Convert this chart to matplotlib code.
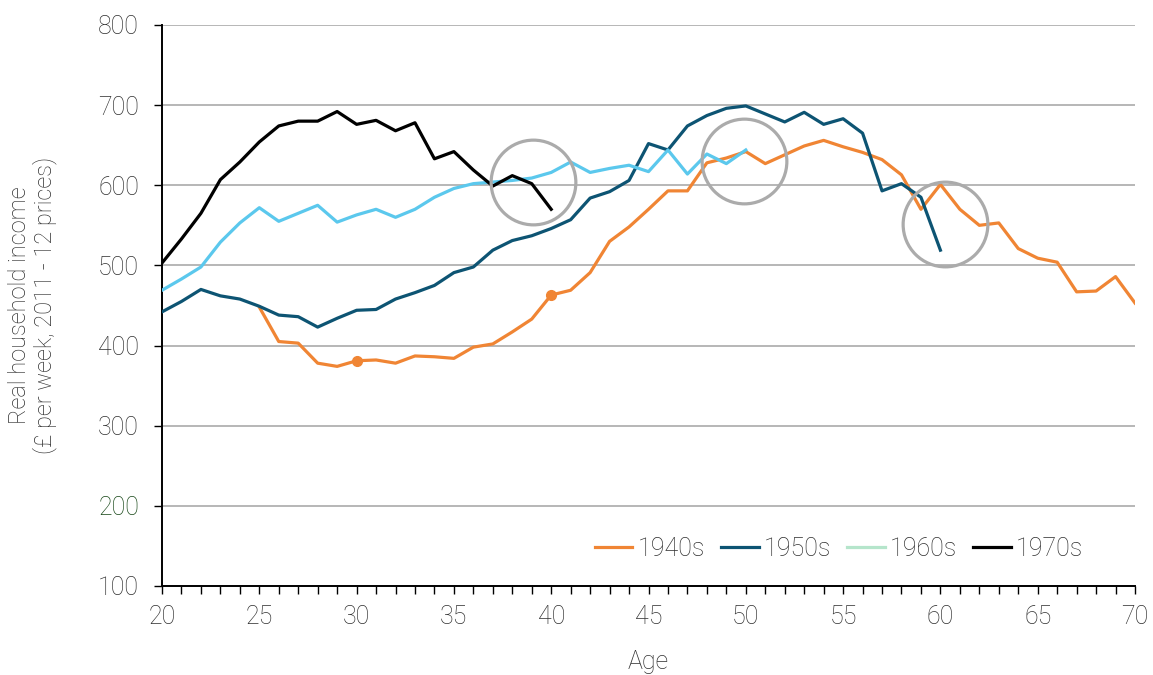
import numpy as np
import matplotlib
matplotlib.use("Agg")
import matplotlib.pyplot as plt
from matplotlib.lines import Line2D
from matplotlib.ticker import MultipleLocator

plt.rcParams['font.family'] = ['Roboto', 'DejaVu Sans']

# cohort income by age (GBP per week, 2011-12 prices)
ages_1940s = np.arange(25, 71)
income_1940s = [448, 405, 403, 378, 374, 381, 382, 378, 387, 386,
                384, 398, 402, 417, 433, 463, 469, 491, 530, 548,
                570, 593, 593, 628, 634, 642, 627, 638, 649, 656,
                648, 641, 632, 613, 570, 601, 570, 550, 553, 521,
                509, 504, 467, 468, 486, 453]

ages_1950s = np.arange(20, 61)
income_1950s = [442, 455, 470, 462, 458, 449, 438, 436, 423, 434,
                444, 445, 458, 466, 475, 491, 498, 519, 531, 537,
                546, 557, 584, 592, 606, 652, 644, 674, 687, 696,
                699, 689, 679, 691, 676, 683, 665, 593, 602, 585, 519]

ages_1960s = np.arange(20, 51)
income_1960s = [469, 483, 498, 529, 553, 572, 555, 565, 575, 554,
                563, 570, 560, 570, 585, 596, 602, 604, 606, 609,
                616, 629, 616, 621, 625, 617, 644, 614, 639, 627, 644]

ages_1970s = np.arange(20, 41)
income_1970s = [503, 533, 565, 607, 629, 654, 674, 680, 680, 692,
                676, 681, 668, 678, 633, 642, 619, 599, 612, 602, 570]

# ages marked with a dot on the 1940s line
marked_ages_1940s = [30, 40]

# highlight circles (age, income)
circle_ages = [39.06, 49.9, 60.25]
circle_income = [604, 630, 552]

labels = ['1940s', '1950s', '1960s', '1970s']
colors = ['#F08534', '#0D5473', '#5BC8ED', '#000000']
legend_colors = ['#F08534', '#0D5473', '#B5E5CB', '#000000']

text_col = '#2E2E2E'

fig = plt.figure(figsize=(11.53, 6.75), dpi=100)
ax = fig.add_axes([0.1405, 0.1319, 0.8439, 0.8311])

lw = 2.3
mark_idx = [list(ages_1940s).index(a) for a in marked_ages_1940s]
ax.plot(ages_1940s, income_1940s, color=colors[0], lw=lw, marker='o', ms=7,
        markevery=mark_idx, zorder=3)
ax.plot(ages_1950s, income_1950s, color=colors[1], lw=lw, zorder=4)
ax.plot(ages_1960s, income_1960s, color=colors[2], lw=lw, zorder=5)
ax.plot(ages_1970s, income_1970s, color=colors[3], lw=lw, zorder=6)

ax.plot(circle_ages, circle_income, ls='none', marker='o', ms=61,
        mfc='none', mec='#ABABAB', mew=2.3, zorder=7)

ax.set_xlim(20, 70)
ax.set_ylim(100, 800)
ax.xaxis.set_major_locator(MultipleLocator(5))
ax.xaxis.set_minor_locator(MultipleLocator(1))
ax.yaxis.set_major_locator(MultipleLocator(100))

ax.grid(axis='y', color='#A3A3A3', lw=1.1, zorder=0)
ax.set_axisbelow(True)

for s in ['top', 'right']:
    ax.spines[s].set_visible(False)
for s in ['left', 'bottom']:
    ax.spines[s].set_color('black')
    ax.spines[s].set_linewidth(1.4)

ax.tick_params(axis='both', which='both', direction='out', length=5.5,
               width=1, color='black', labelcolor=text_col, labelsize=18)
ax.tick_params(axis='x', pad=8)
ax.tick_params(axis='y', pad=11)
for t in ax.get_yticklabels():
    t.set_fontweight('light')
    if t.get_text() == '200':
        t.set_color('#174717')
for t in ax.get_xticklabels():
    t.set_fontweight('light')

ax.set_xlabel('Age', fontsize=18, color=text_col, fontweight='light')
ax.xaxis.set_label_coords(0.5, -0.115)
ax.set_ylabel('Real household income\n(£ per week, 2011 - 12 prices)',
              fontsize=17, color=text_col, fontweight='light', linespacing=1.05)
ax.yaxis.set_label_coords(-0.108, 0.5)

handles = [Line2D([], [], color=c, lw=2.3) for c in legend_colors]
leg = ax.legend(handles, labels, ncol=4, loc='center left',
                bbox_to_anchor=(0.445, 0.066), frameon=False,
                fontsize=18, handlelength=1.5, handletextpad=0.2,
                columnspacing=0.65, borderpad=0, borderaxespad=0)
for t in leg.get_texts():
    t.set_color(text_col)
    t.set_fontweight('light')

fig.savefig('out.png', dpi=100)
